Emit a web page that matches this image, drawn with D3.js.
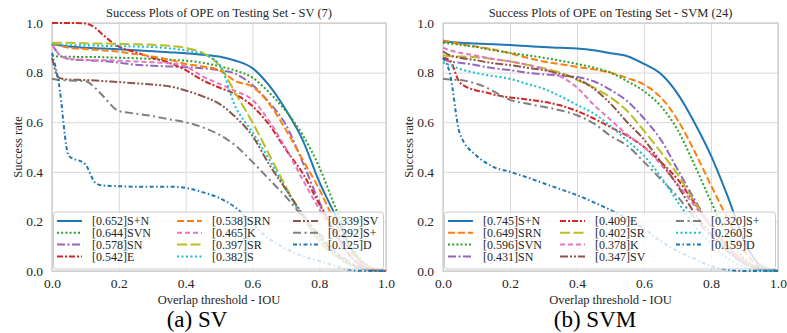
<!DOCTYPE html>
<html>
<head>
<meta charset="utf-8">
<script src="https://cdn.jsdelivr.net/npm/d3@7"></script>
<style>
  body { margin: 0; background: #fff; }
  text { font-family: "Liberation Serif", "Times New Roman", serif; fill: #262626; }
</style>
</head>
<body>
<div id="chart"></div>
<script>
// overlap thresholds (x) shared by every curve
const thresholds = [0, 0.02, 0.05, 0.1, 0.13, 0.15, 0.2, 0.25, 0.3, 0.35, 0.4, 0.45, 0.5, 0.55, 0.6, 0.65, 0.7, 0.75, 0.8, 0.85, 0.9, 0.95, 1.0];
const xTicks = [0, 0.2, 0.4, 0.6, 0.8, 1.0];
const yTicks = [0, 0.2, 0.4, 0.6, 0.8, 1.0];

// (a) SV
const svNames = ["S+N", "SVN", "SN", "E", "SRN", "K", "SR", "S", "SV", "S+", "D"];
const svAuc = [0.652, 0.644, 0.578, 0.542, 0.538, 0.465, 0.397, 0.382, 0.339, 0.292, 0.125];
const svSplusN = [0.915, 0.91, 0.905, 0.90, 0.898, 0.897, 0.894, 0.89, 0.886, 0.882, 0.878, 0.872, 0.865, 0.848, 0.818, 0.748, 0.65, 0.53, 0.36, 0.22, 0.08, 0.015, 0];
const svSVN = [0.87, 0.865, 0.864, 0.863, 0.863, 0.862, 0.86, 0.858, 0.855, 0.852, 0.848, 0.84, 0.826, 0.808, 0.78, 0.72, 0.645, 0.55, 0.42, 0.25, 0.09, 0.02, 0];
const svSN = [0.914, 0.875, 0.855, 0.85, 0.848, 0.847, 0.84, 0.832, 0.828, 0.825, 0.822, 0.818, 0.81, 0.795, 0.75, 0.68, 0.59, 0.44, 0.28, 0.15, 0.05, 0.01, 0];
const svE = [1.0, 1.0, 1.0, 0.998, 0.98, 0.955, 0.905, 0.882, 0.86, 0.84, 0.81, 0.77, 0.74, 0.712, 0.665, 0.59, 0.49, 0.395, 0.27, 0.15, 0.05, 0.01, 0];
const svSRN = [0.914, 0.91, 0.90, 0.895, 0.892, 0.89, 0.884, 0.875, 0.865, 0.852, 0.835, 0.825, 0.81, 0.765, 0.743, 0.675, 0.57, 0.45, 0.33, 0.19, 0.07, 0.015, 0];
const svK = [0.914, 0.875, 0.855, 0.852, 0.85, 0.85, 0.848, 0.845, 0.842, 0.838, 0.825, 0.785, 0.755, 0.725, 0.69, 0.605, 0.495, 0.37, 0.25, 0.14, 0.05, 0.015, 0];
const svSR = [0.92, 0.92, 0.92, 0.918, 0.917, 0.917, 0.916, 0.914, 0.912, 0.908, 0.9, 0.88, 0.83, 0.715, 0.6, 0.47, 0.34, 0.22, 0.12, 0.06, 0.02, 0.005, 0];
const svS = [0.914, 0.912, 0.91, 0.91, 0.909, 0.908, 0.907, 0.905, 0.903, 0.898, 0.89, 0.875, 0.835, 0.66, 0.56, 0.45, 0.33, 0.22, 0.13, 0.06, 0.02, 0.005, 0];
const svSV = [0.86, 0.78, 0.772, 0.77, 0.768, 0.766, 0.762, 0.757, 0.752, 0.745, 0.728, 0.705, 0.675, 0.62, 0.545, 0.43, 0.33, 0.23, 0.14, 0.07, 0.025, 0.005, 0];
const svSplus = [0.775, 0.77, 0.768, 0.765, 0.737, 0.71, 0.645, 0.635, 0.625, 0.612, 0.6, 0.58, 0.55, 0.505, 0.44, 0.37, 0.30, 0.22, 0.15, 0.08, 0.03, 0.005, 0];
const svD = [0.88, 0.76, 0.465, 0.43, 0.355, 0.345, 0.342, 0.34, 0.34, 0.34, 0.335, 0.318, 0.295, 0.255, 0.19, 0.13, 0.09, 0.06, 0.04, 0.02, 0.003, 0, 0];

// (b) SVM
const svmNames = ["S+N", "SRN", "SVN", "SN", "E", "SR", "K", "SV", "S+", "S", "D"];
const svmAuc = [0.745, 0.649, 0.596, 0.431, 0.409, 0.402, 0.378, 0.347, 0.320, 0.260, 0.159];
const svmSplusN = [0.925, 0.923, 0.92, 0.917, 0.915, 0.914, 0.911, 0.907, 0.903, 0.9, 0.897, 0.89, 0.878, 0.866, 0.835, 0.795, 0.715, 0.6, 0.465, 0.30, 0.12, 0.02, 0];
const svmSRN = [0.93, 0.925, 0.915, 0.905, 0.898, 0.893, 0.878, 0.86, 0.845, 0.834, 0.823, 0.813, 0.8, 0.778, 0.752, 0.7, 0.61, 0.485, 0.345, 0.21, 0.08, 0.015, 0];
const svmSVN = [0.92, 0.917, 0.912, 0.903, 0.895, 0.89, 0.88, 0.87, 0.86, 0.848, 0.835, 0.82, 0.8, 0.765, 0.725, 0.665, 0.57, 0.43, 0.28, 0.14, 0.05, 0.01, 0];
const svmSN = [0.855, 0.845, 0.84, 0.83, 0.822, 0.818, 0.81, 0.8, 0.793, 0.788, 0.782, 0.765, 0.73, 0.685, 0.615, 0.53, 0.41, 0.29, 0.18, 0.09, 0.03, 0.008, 0];
const svmE = [0.86, 0.85, 0.76, 0.728, 0.72, 0.712, 0.70, 0.692, 0.682, 0.668, 0.645, 0.615, 0.58, 0.545, 0.5, 0.44, 0.37, 0.275, 0.18, 0.1, 0.04, 0.01, 0];
const svmSR = [0.87, 0.866, 0.865, 0.862, 0.858, 0.855, 0.845, 0.832, 0.818, 0.8, 0.77, 0.74, 0.70, 0.645, 0.565, 0.48, 0.39, 0.28, 0.18, 0.1, 0.04, 0.01, 0];
const svmK = [0.9, 0.89, 0.88, 0.868, 0.86, 0.855, 0.845, 0.832, 0.815, 0.785, 0.74, 0.67, 0.61, 0.55, 0.5, 0.43, 0.35, 0.265, 0.18, 0.1, 0.04, 0.01, 0];
const svmSV = [0.885, 0.87, 0.86, 0.85, 0.842, 0.838, 0.83, 0.82, 0.81, 0.795, 0.775, 0.735, 0.675, 0.6, 0.53, 0.44, 0.345, 0.235, 0.15, 0.08, 0.03, 0.008, 0];
const svmSplus = [0.775, 0.772, 0.77, 0.755, 0.74, 0.725, 0.69, 0.675, 0.662, 0.648, 0.628, 0.595, 0.545, 0.505, 0.44, 0.37, 0.3, 0.215, 0.14, 0.08, 0.03, 0.005, 0];
const svmS = [0.84, 0.83, 0.815, 0.798, 0.79, 0.786, 0.775, 0.755, 0.735, 0.705, 0.67, 0.635, 0.585, 0.525, 0.465, 0.38, 0.28, 0.185, 0.11, 0.05, 0.015, 0.003, 0];
const svmD = [0.86, 0.8, 0.555, 0.465, 0.435, 0.42, 0.4, 0.378, 0.354, 0.33, 0.306, 0.277, 0.246, 0.21, 0.17, 0.12, 0.08, 0.05, 0.02, 0.005, 0, 0, 0];

// line style per tracker (same in both panels)
const styleOf = {
  "S+N": { color: "#1f77b4", dash: null },
  "SRN": { color: "#ff7f0e", dash: "7,3" },
  "SVN": { color: "#2ca02c", dash: "2,2.2" },
  "E":   { color: "#d62728", dash: "6,2,2,2" },
  "SN":  { color: "#9467bd", dash: "8,2.5,2,2.5" },
  "SV":  { color: "#8c564b", dash: "8,2,2,2,2,2" },
  "K":   { color: "#e377c2", dash: "5,3" },
  "S+":  { color: "#7f7f7f", dash: "8,3.5,2,3.5" },
  "SR":  { color: "#bcbd22", dash: "10,3.5" },
  "S":   { color: "#17becf", dash: "2,2.5" },
  "D":   { color: "#1f77b4", dash: "4,2.5,1.5,2.5" }
};

const serif = "'Liberation Serif', 'Times New Roman', serif";

const panels = [
  {
    left: 52, right: 386, title: "Success Plots of OPE on Testing Set - SV (7)", caption: "(a) SV",
    names: svNames, auc: svAuc,
    values: [svSplusN, svSVN, svSN, svE, svSRN, svK, svSR, svS, svSV, svSplus, svD],
    legendCols: [5, 125, 241], ylabelX: 18, captionX: 197
  },
  {
    left: 443, right: 778, title: "Success Plots of OPE on Testing Set - SVM (24)", caption: "(b) SVM",
    names: svmNames, auc: svmAuc,
    values: [svmSplusN, svmSRN, svmSVN, svmSN, svmE, svmSR, svmK, svmSV, svmSplus, svmS, svmD],
    legendCols: [5, 117, 233], ylabelX: 409, captionX: 595
  }
];

const plotTop = 23, plotBottom = 271;

const svg = d3.select("#chart")
  .append("svg")
  .attr("width", 787)
  .attr("height", 333);

panels.forEach(p => {
  const x = d3.scaleLinear().domain([0, 1]).range([p.left, p.right]);
  const y = d3.scaleLinear().domain([0, 1]).range([plotBottom, plotTop]);
  const g = svg.append("g");

  // grid
  g.append("g")
    .attr("transform", "translate(0," + plotBottom + ")")
    .call(d3.axisBottom(x).tickValues(xTicks).tickSize(-(plotBottom - plotTop)).tickFormat(""))
    .call(a => a.select(".domain").remove())
    .selectAll("line").attr("stroke", "#d9d9d9").attr("stroke-width", 1);
  g.append("g")
    .attr("transform", "translate(" + p.left + ",0)")
    .call(d3.axisLeft(y).tickValues(yTicks).tickSize(-(p.right - p.left)).tickFormat(""))
    .call(a => a.select(".domain").remove())
    .selectAll("line").attr("stroke", "#d9d9d9").attr("stroke-width", 1);

  // tick labels
  const xa = g.append("g")
    .attr("transform", "translate(0," + plotBottom + ")")
    .call(d3.axisBottom(x).tickValues(xTicks).tickSize(0).tickPadding(7).tickFormat(d3.format(".1f")));
  xa.select(".domain").remove();
  xa.selectAll("text").style("font-size", "13.5px").style("font-family", serif).style("fill", "#262626");
  const ya = g.append("g")
    .attr("transform", "translate(" + p.left + ",0)")
    .call(d3.axisLeft(y).tickValues(yTicks).tickSize(0).tickPadding(9).tickFormat(d3.format(".1f")));
  ya.select(".domain").remove();
  ya.selectAll("text").style("font-size", "13.5px").style("font-family", serif).style("fill", "#262626");

  // frame
  g.append("rect")
    .attr("x", p.left).attr("y", plotTop)
    .attr("width", p.right - p.left).attr("height", plotBottom - plotTop)
    .attr("fill", "none").attr("stroke", "#cccccc").attr("stroke-width", 1.25);

  // curves
  const line = d3.line()
    .x((d, i) => x(thresholds[i]))
    .y(d => y(d))
    .curve(d3.curveMonotoneX);

  p.names.forEach((name, k) => {
    const st = styleOf[name];
    g.append("path")
      .datum(p.values[k])
      .attr("d", line)
      .attr("fill", "none")
      .attr("stroke", st.color)
      .attr("stroke-width", 2)
      .attr("stroke-dasharray", st.dash);
  });

  // legend
  const lgTop = 212, lgH = 57;
  g.append("rect")
    .attr("x", p.left + 1.5).attr("y", lgTop)
    .attr("width", p.right - p.left - 4).attr("height", lgH)
    .attr("rx", 2.5)
    .attr("fill", "#fff").attr("fill-opacity", 0.8)
    .attr("stroke", "#cccccc").attr("stroke-width", 1);

  p.names.forEach((name, k) => {
    const col = Math.floor(k / 4), row = k % 4;
    const lx = p.left + p.legendCols[col];
    const ly = 221 + row * 11.8;
    const st = styleOf[name];
    g.append("line")
      .attr("x1", lx).attr("x2", lx + 25)
      .attr("y1", ly).attr("y2", ly)
      .attr("stroke", st.color).attr("stroke-width", 2)
      .attr("stroke-dasharray", st.dash);
    g.append("text")
      .attr("x", lx + 35).attr("y", ly)
      .attr("dy", "0.35em")
      .style("font-size", "12px")
      .style("font-family", serif)
      .text("[" + d3.format(".3f")(p.auc[k]) + "]" + name);
  });

  // titles and labels
  const cx = (p.left + p.right) / 2;
  g.append("text")
    .attr("x", cx).attr("y", 17)
    .attr("text-anchor", "middle")
    .style("font-size", "12.5px")
    .style("font-family", serif)
    .text(p.title);
  g.append("text")
    .attr("x", cx).attr("y", 304)
    .attr("text-anchor", "middle")
    .style("font-size", "12.5px")
    .style("font-family", serif)
    .text("Overlap threshold - IOU");
  g.append("text")
    .attr("transform", "translate(" + p.ylabelX + "," + ((plotTop + plotBottom) / 2) + ") rotate(-90)")
    .attr("text-anchor", "middle")
    .attr("dy", "0.35em")
    .style("font-size", "12.5px")
    .style("font-family", serif)
    .text("Success rate");
  g.append("text")
    .attr("x", p.captionX).attr("y", 327)
    .attr("text-anchor", "middle")
    .style("font-size", "23px")
    .style("font-family", serif)
    .style("fill", "#000")
    .text(p.caption);
});
</script>
</body>
</html>
